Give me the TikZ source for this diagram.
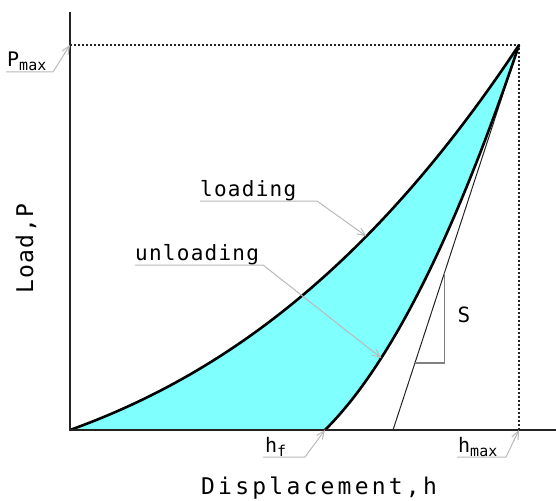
\documentclass[tikz,border=0pt]{standalone}
\usepackage{fontspec}
\usepackage{tikz}
\usetikzlibrary{positioning, calc, arrows.meta}
\newfontfamily\tickfont{DejaVu Sans Mono}
\newfontfamily\curvefont[LetterSpace=6]{DejaVu Sans Mono}
\newfontfamily\axisfont[LetterSpace=14]{DejaVu Sans Mono}
\definecolor{areacyan}{RGB}{128, 255, 255}
\definecolor{leadergray}{RGB}{185, 185, 185}
\definecolor{axisdark}{RGB}{35, 35, 35}
\newcommand{\lowsub}[1]{\raisebox{-4pt}{\fontsize{15}{15}\selectfont #1}}

\begin{document}
\begin{tikzpicture}[
    x=1pt, y=-1pt,
    axisline/.style={axisdark, line width=2pt},
    curveline/.style={black, line width=2.6pt},
    guide/.style={axisdark, line width=1.1pt, dash pattern=on 2pt off 2pt},
    slopeline/.style={axisdark, line width=1pt},
    leaderline/.style={leadergray, line width=1pt, -{Straight Barb[length=8pt, width=7pt]}},
    curvelabel/.style={font=\fontsize{21}{21}\curvefont, inner sep=0pt, anchor=base west},
    ticklabel/.style={font=\fontsize{20}{20}\tickfont, inner sep=0pt, anchor=base west},
    axislabel/.style={inner sep=0pt, anchor=base west}
]
    \useasboundingbox (0,0) rectangle (556,500);

    % key points
    \coordinate (origin) at (70,430);
    \coordinate (peak) at (519,45);
    \coordinate (hf) at (325,430);
    \coordinate (hs) at (393,430);
    \coordinate (ymax) at (70,45);
    \coordinate (xmax) at (519,430);

    % area between the two curves
    \fill[areacyan] (origin) .. controls (219.7,376.1) and (369.3,270.9) .. (peak)
        .. controls (454.3,237.5) and (389.7,365.8) .. (hf) -- cycle;

    \draw[guide] (ymax) -- (peak) -- (xmax);

    % contact stiffness
    \draw[slopeline] (hs) -- (peak);
    \coordinate (slopelow) at ($(hs)!0.174!(peak)$);
    \coordinate (slopehigh) at ($(hs)!0.408!(peak)$);
    \draw[gray, line width=1.2pt] (slopelow) -- (slopelow -| slopehigh) -- (slopehigh);
    \node[font=\fontsize{21}{21}\tickfont, inner sep=0pt] (stiff) at (464,315) {S};

    \draw[curveline] (origin) .. controls (219.7,376.1) and (369.3,270.9) .. (peak)
        coordinate[pos=0.66] (loadpt);
    \draw[curveline] (hf) .. controls (389.7,365.8) and (454.3,237.5) .. (peak)
        coordinate[pos=0.29] (unloadpt);

    \draw[axisline] (70,12) -- (origin) -- (556,430);

    % labels
    \node[curvelabel] (loadtxt) at (200,196) {loading};
    \node[curvelabel] (unloadtxt) at (135,260) {unloading};
    \draw[leaderline] (loadtxt.base west) ++(0,5) -- ++(117,0) -- (loadpt);
    \draw[leaderline] (unloadtxt.base west) ++(0,5) -- ++(128,0) -- (unloadpt);

    \node[ticklabel] (pmaxtxt) at (7,67) {P\lowsub{max}};
    \node[ticklabel] (hftxt) at (265,452) {h\lowsub{f}};
    \node[ticklabel] (hmaxtxt) at (458,452) {h\lowsub{max}};
    \draw[leaderline] (pmaxtxt.base west) ++(-1,5) -- ++(47,0) -- (ymax);
    \draw[leaderline] (hftxt.base west) ++(-2,5) -- ++(42,0) -- (hf);
    \draw[leaderline] (hmaxtxt.base west) ++(-1,5) -- ++(49,0) -- (xmax);

    \node[axislabel, font=\fontsize{23}{23}\axisfont] (xlabel) at (201,494) {Displacement,h};
    \node[axislabel, font=\fontsize{23}{23}\curvefont, rotate=90] (ylabel) at (33,294) {Load,P};
\end{tikzpicture}
\end{document}
